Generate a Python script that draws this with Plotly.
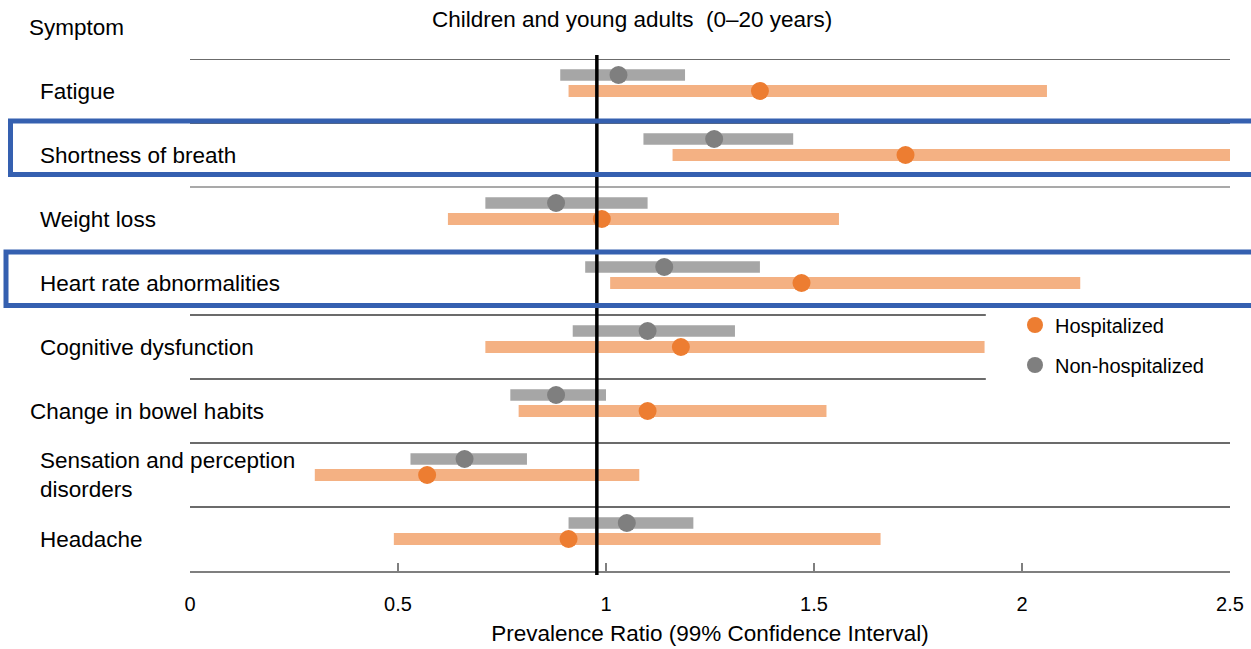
import plotly.graph_objects as go

# ---- data -------------------------------------------------------------
symptoms = [
    "Fatigue",
    "Shortness of breath",
    "Weight loss",
    "Heart rate abnormalities",
    "Cognitive dysfunction",
    "Change in bowel habits",
    "Sensation and perception<br>disorders",
    "Headache",
]
hosp_ratio = [1.37, 1.72, 0.99, 1.47, 1.18, 1.10, 0.57, 0.91]
hosp_low = [0.91, 1.16, 0.62, 1.01, 0.71, 0.79, 0.30, 0.49]
hosp_high = [2.06, 2.50, 1.56, 2.14, 1.91, 1.53, 1.08, 1.66]
nonhosp_ratio = [1.03, 1.26, 0.88, 1.14, 1.10, 0.88, 0.66, 1.05]
nonhosp_low = [0.89, 1.09, 0.71, 0.95, 0.92, 0.77, 0.53, 0.91]
nonhosp_high = [1.19, 1.45, 1.10, 1.37, 1.31, 1.00, 0.81, 1.21]
x_ticks = [0, 0.5, 1, 1.5, 2, 2.5]
x_tick_labels = ["0", "0.5", "1", "1.5", "2", "2.5"]
reference_ratio = 0.978
highlighted = ["Shortness of breath", "Heart rate abnormalities"]

# ---- styling ------------------------------------------------------------
FONT = "Liberation Sans"
ORANGE_BAR, ORANGE_DOT = "#F4B183", "#ED7D31"
GREY_BAR, GREY_DOT = "#A6A6A6", "#7F7F7F"
BLUE = "#3560B0"
W, H = 1251, 649
M_L, M_R, M_T, M_B = 190, 21, 59, 78
PLOT_W = W - M_L - M_R
PLOT_H = H - M_T - M_B

rows = list(range(len(symptoms)))
grey_offset = -0.25  # non-hospitalized bar sits above the hospitalized one


def px_to_paper_x(px):
    return (px - M_L) / PLOT_W


def px_to_paper_y(py):
    return 1 - (py - M_T) / PLOT_H


fig = go.Figure()

# confidence interval bars
fig.add_trace(go.Bar(
    y=rows, x=[h - l for l, h in zip(hosp_low, hosp_high)], base=hosp_low,
    orientation="h", width=0.19, marker=dict(color=ORANGE_BAR, line=dict(width=0)),
    showlegend=False, hoverinfo="skip",
))
fig.add_trace(go.Bar(
    y=[r + grey_offset for r in rows], x=[h - l for l, h in zip(nonhosp_low, nonhosp_high)],
    base=nonhosp_low, orientation="h", width=0.18,
    marker=dict(color=GREY_BAR, line=dict(width=0)),
    showlegend=False, hoverinfo="skip",
))

# point estimates
fig.add_trace(go.Scatter(
    x=hosp_ratio, y=rows, mode="markers", name="Hospitalized",
    marker=dict(size=18, color=ORANGE_DOT, line=dict(width=0)),
    legend="legend",
))
fig.add_trace(go.Scatter(
    x=nonhosp_ratio, y=[r + grey_offset for r in rows], mode="markers",
    name="Non-hospitalized",
    marker=dict(size=18, color=GREY_DOT, line=dict(width=0)),
    legend="legend2",
))

shapes = []
# row separators (the two around the legend stop short of it)
legend_edge = 1.913
for k in range(len(symptoms)):
    yb = k - 0.5
    x_end = legend_edge if k in (4, 5) else 2.5
    color = "#8C8C8C" if k == 2 else "#3A3A3A"
    shapes.append(dict(type="line", xref="x", yref="y", x0=0, x1=x_end, y0=yb, y1=yb,
                       line=dict(color=color, width=1.5), layer="below"))

# reference line
shapes.append(dict(type="line", xref="x", yref="paper",
                   x0=reference_ratio, x1=reference_ratio,
                   y0=-0.008, y1=1.008, line=dict(color="black", width=3.5), layer="above"))

# highlight boxes around selected symptoms
box_left = {"Shortness of breath": 10.5, "Heart rate abnormalities": 6}
box_top = {"Shortness of breath": -0.53, "Heart rate abnormalities": -0.485}
for name in highlighted:
    i = symptoms.index(name)
    shapes.append(dict(type="rect", xref="paper", yref="y",
                       x0=px_to_paper_x(box_left[name]), x1=1.06,
                       y0=i + box_top[name], y1=i + box_top[name] + 0.835,
                       line=dict(color=BLUE, width=5), fillcolor="rgba(0,0,0,0)",
                       layer="above"))

annotations = []
label_font = dict(family=FONT, size=22.5, color="black")
for i, name in enumerate(symptoms):
    x_px = 28 if name.startswith("Change") else 38
    annotations.append(dict(text=name, xref="paper", yref="y",
                            x=px_to_paper_x(x_px), y=i, xanchor="left", yanchor="middle",
                            align="left", showarrow=False, font=label_font))
annotations.append(dict(text="Symptom", xref="paper", yref="paper",
                        x=px_to_paper_x(27), y=px_to_paper_y(27),
                        xanchor="left", yanchor="middle", showarrow=False, font=label_font))
annotations.append(dict(text="Children and young adults\u00a0\u00a0(0\u201320 years)",
                        xref="paper", yref="paper",
                        x=px_to_paper_x(632), y=px_to_paper_y(19),
                        xanchor="center", yanchor="middle", showarrow=False, font=label_font))

legend_common = dict(xanchor="left", yanchor="middle", bgcolor="rgba(0,0,0,0)",
                     font=dict(family=FONT, size=20, color="black"), itemwidth=30,
                     borderwidth=0)

fig.update_layout(
    width=W, height=H,
    margin=dict(l=M_L, r=M_R, t=M_T, b=M_B),
    paper_bgcolor="white", plot_bgcolor="white",
    font=dict(family=FONT, color="black"),
    barmode="overlay",
    showlegend=True,
    legend=dict(x=px_to_paper_x(1015), y=px_to_paper_y(325), **legend_common),
    legend2=dict(x=px_to_paper_x(1015), y=px_to_paper_y(365), **legend_common),
    xaxis=dict(
        range=[0, 2.5], tickvals=x_ticks, ticktext=x_tick_labels,
        ticks="inside", ticklen=8, tickwidth=1.5, tickcolor="#7F7F7F",
        showline=True, linecolor="#7F7F7F", linewidth=1.5,
        showgrid=False, zeroline=False, automargin=False,
        tickfont=dict(family=FONT, size=20, color="black"),
        ticklabelstandoff=14,
        title=dict(text="Prevalence Ratio (99% Confidence Interval)",
                   font=dict(family=FONT, size=22.5, color="black"), standoff=11),
    ),
    yaxis=dict(range=[len(symptoms) - 0.5, -0.5], visible=False, automargin=False),
    shapes=shapes,
    annotations=annotations,
)

fig.write_html("out.html")
